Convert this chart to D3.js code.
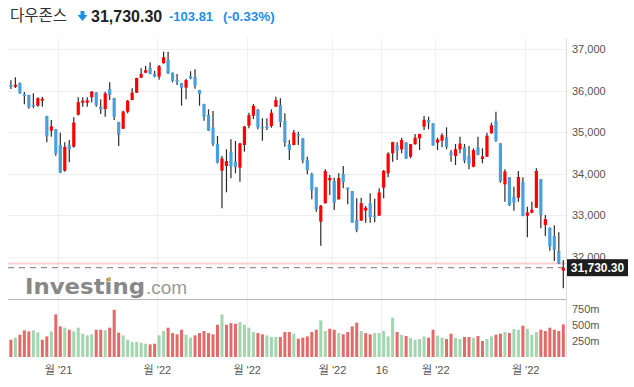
<!DOCTYPE html>
<html>
<head>
<meta charset="utf-8">
<script src="https://cdnjs.cloudflare.com/ajax/libs/d3/7.8.5/d3.min.js"></script>
<style>
body { margin: 0; background: #fff; }
svg { display: block; }
</style>
</head>
<body>
<svg id="chart" width="634" height="387"></svg>
<script>
// Dow Jones daily candles, 15 Nov 2021 - 12 May 2022
var dates = [
 "2021-11-15","2021-11-16","2021-11-17","2021-11-18","2021-11-19","2021-11-22","2021-11-23","2021-11-24","2021-11-26","2021-11-29","2021-11-30",
 "2021-12-01","2021-12-02","2021-12-03","2021-12-06","2021-12-07","2021-12-08","2021-12-09","2021-12-10","2021-12-13","2021-12-14","2021-12-15",
 "2021-12-16","2021-12-17","2021-12-20","2021-12-21","2021-12-22","2021-12-23","2021-12-27","2021-12-28","2021-12-29","2021-12-30","2021-12-31",
 "2022-01-03","2022-01-04","2022-01-05","2022-01-06","2022-01-07","2022-01-10","2022-01-11","2022-01-12","2022-01-13","2022-01-14",
 "2022-01-18","2022-01-19","2022-01-20","2022-01-21","2022-01-24","2022-01-25","2022-01-26","2022-01-27","2022-01-28","2022-01-31",
 "2022-02-01","2022-02-02","2022-02-03","2022-02-04","2022-02-07","2022-02-08","2022-02-09","2022-02-10","2022-02-11","2022-02-14",
 "2022-02-15","2022-02-16","2022-02-17","2022-02-18","2022-02-22","2022-02-23","2022-02-24","2022-02-25","2022-02-28",
 "2022-03-01","2022-03-02","2022-03-03","2022-03-04","2022-03-07","2022-03-08","2022-03-09","2022-03-10","2022-03-11","2022-03-14",
 "2022-03-15","2022-03-16","2022-03-17","2022-03-18","2022-03-21","2022-03-22","2022-03-23","2022-03-24","2022-03-25","2022-03-28",
 "2022-03-29","2022-03-30","2022-03-31",
 "2022-04-01","2022-04-04","2022-04-05","2022-04-06","2022-04-07","2022-04-08","2022-04-11","2022-04-12","2022-04-13","2022-04-14",
 "2022-04-18","2022-04-19","2022-04-20","2022-04-21","2022-04-22","2022-04-25","2022-04-26","2022-04-27","2022-04-28","2022-04-29",
 "2022-05-02","2022-05-03","2022-05-04","2022-05-05","2022-05-06","2022-05-09","2022-05-10","2022-05-11","2022-05-12"
];
var opens = [
 36133,36090,36181,35916,35892,35651,35634,35754,35386,35031,35065,
 34687,34067,34687,34646,35417,35706,35706,35836,35956,35610,35554,36036,35819,35241,35080,35490,35771,35947,36308,36429,36542,36405,
 36333,36655,36735,36429,36253,36181,36068,36349,36325,36012,35675,35410,35113,34711,34067,34181,34525,34284,34140,34687,
 35152,35393,35530,35120,35130,35145,35610,35651,35265,34711,34687,34952,34848,34325,33988,33667,32839,33282,33836,
 33819,33378,33988,33660,33578,32880,32863,33104,33282,32992,32983,33658,34005,34487,34679,34583,34752,34405,34703,34848,35128,35289,35210,
 34743,34791,34872,34511,34422,34583,34631,34422,34164,34631,34349,34405,34968,35265,34727,33739,33908,33441,33417,33795,
 32983,33056,33176,33860,32759,32694,32494,32133,31660
];
var highs = [
 36246,36318,36190,35964,35900,35932,35836,35851,35390,35289,35070,
 34983,34752,34807,35354,35836,35836,35836,35988,35960,35788,35972,36197,35825,35245,35510,35771,36053,36305,36535,36590,36679,36477,
 36614,36935,36935,36435,36398,36185,36285,36463,36511,36015,35680,35547,35506,34904,34422,34583,34824,34783,34742,35145,
 35465,35675,35554,35330,35330,35547,35851,35812,35451,34807,35048,35007,34850,34405,34019,33670,33241,34101,33964,
 33899,34005,34181,33665,33580,33402,33417,33217,33523,33394,33643,34085,34511,34767,34752,34863,34755,34711,34952,34955,35386,35369,35215,
 34863,34968,35113,34566,34711,34887,34711,34663,34607,34887,34607,34983,35224,35489,34730,34101,33910,33682,34060,33908,
 33200,33320,34125,33865,33000,32700,32751,32583,31916
];
var lows = [
 36036,36060,35923,35667,35561,35571,35610,35610,34752,34887,34429,
 34005,34040,34270,34620,35400,35610,35610,35716,35610,35434,35369,35771,35289,34663,35075,35451,35765,35940,36300,36414,36390,36318,
 36261,36650,36400,36198,36133,35634,35788,36270,36044,35634,35272,35025,34663,34240,33161,33547,33884,34005,33802,34526,
 35089,35313,35065,34790,35050,35104,35600,35113,34646,34325,34680,34687,34246,33981,33378,33080,32260,33275,33482,
 33120,33370,33643,33258,32815,32583,32860,32815,32815,32824,32980,33402,33908,34284,34325,34487,34349,34366,34700,34566,35048,35065,34670,
 34566,34631,34583,34284,34205,34487,34246,34101,34149,34440,34246,34400,34960,34767,33778,33320,33217,33104,33320,32968,
 32462,33041,33170,32680,32494,32140,31892,31819,31233
];
var closes = [
 36087,36142,35931,35870,35601,35619,35813,35804,34899,35135,34483,
 34022,34639,34580,35227,35719,35754,35760,35971,35650,35544,35927,35897,35365,34932,35492,35754,35950,36302,36398,36488,36398,36338,
 36585,36799,36407,36236,36231,36068,36252,36290,36113,35912,35369,35029,34715,34265,34365,34298,34168,34160,34725,35132,
 35405,35630,35111,35089,35091,35463,35768,35241,34738,34566,34989,34934,34312,34079,33596,33132,33224,34059,33893,
 33294,33891,33795,33615,32818,32633,33286,33174,32944,32945,33545,34063,34481,34755,34553,34808,34359,34708,34862,34955,35294,35229,34678,
 34818,34922,34641,34446,34584,34721,34309,34221,34564,34451,34412,34911,35161,34793,33811,34049,33240,33301,33916,32977,
 33061,33128,34061,32998,32899,32246,32160,31834,31730
];
// volume in millions
var volumes = [
 270,302,348,416,400,416,385,270,322,400,
 666,478,458,426,400,458,364,338,354,426,
 426,416,458,738,380,338,270,234,234,224,
 208,198,208,338,406,458,374,354,426,348,
 302,338,374,406,374,354,504,666,504,530,
 520,546,504,458,390,374,354,338,312,312,
 312,390,390,364,286,302,322,390,426,572,
 406,442,426,374,354,390,478,536,406,374,
 354,374,374,406,322,614,390,348,328,296,
 270,281,322,302,426,333,302,281,364,296,
 281,312,312,296,328,250,281,322,348,364,
 390,374,437,426,489,442,348,390,426,406,
 458,426,406,510
];

var priceTicks = [32000, 33000, 34000, 35000, 36000, 37000];
var volumeTicks = [250, 500, 750];
var xTickDates = ["2021-12-01", "2022-01-03", "2022-02-01", "2022-03-01", "2022-03-16", "2022-04-01", "2022-05-02"];
var xTickLabels = ["월 '21", "월 '22", "월 '22", "월 '22", "16", "월 '22", "월 '22"];

var indexName = "다우존스";
var lastPrice = 31730.30;
var change = -103.81;
var changePct = -0.33;

var UP = "#ff0000", DOWN = "#4aa0dc";
var VOL_UP = "#a3d5ae", VOL_DOWN = "#e46a6a";
var FONT = "'Liberation Sans', Arial, 'Noto Sans CJK KR', sans-serif";

// d3.format gives a unicode minus, the site shows a plain hyphen
function fmt(spec, v) { return d3.format(spec)(v).replace("\u2212", "-"); }

var svg = d3.select("#chart");

var left = 8, right = 566;
var x = d3.scaleLinear().domain([0, dates.length]).range([8.65, 565.55]);
var y = d3.scaleLinear().domain([32000, 37000]).range([256.5, 49]);
var yVol = d3.scaleLinear().domain([0, 750]).range([357, 309]);

var xTickIdx = xTickDates.map(function(d) { return dates.indexOf(d); });

// grid
var grid = svg.append("g");
grid.selectAll(".hg").data(priceTicks).enter().append("line")
    .attr("x1", left).attr("x2", right)
    .attr("y1", function(d) { return Math.round(y(d)) + 0.5; })
    .attr("y2", function(d) { return Math.round(y(d)) + 0.5; })
    .attr("stroke", "#eeeeee");
grid.selectAll(".vg").data(xTickIdx).enter().append("line")
    .attr("x1", function(d) { return Math.round(x(d)) + 0.5; })
    .attr("x2", function(d) { return Math.round(x(d)) + 0.5; })
    .attr("y1", 38).attr("y2", 357)
    .attr("stroke", "#f0f0f0");

// watermark
var wm = svg.append("g");
wm.append("text").attr("x", 25).attr("y", 294)
    .attr("font-family", "'DejaVu Sans', 'Liberation Sans', sans-serif").attr("font-weight", "bold")
    .attr("font-size", 22).attr("textLength", 120).attr("lengthAdjust", "spacingAndGlyphs")
    .attr("fill", "#888").text("Investing");
wm.append("text").attr("x", 146).attr("y", 294)
    .attr("font-family", "'Liberation Sans', Arial, sans-serif")
    .attr("font-size", 19).attr("fill", "#999").text(".com");
wm.append("path").attr("d", "M106,282 l3,-5 l2,0 l-3,5 z").attr("fill", "#f5a623");

// previous close and last price lines
var prevClose = lastPrice - change;
svg.append("line").attr("x1", left).attr("x2", right)
    .attr("y1", y(prevClose)).attr("y2", y(prevClose))
    .attr("stroke", "#f8cfcf").attr("stroke-width", 2);
svg.append("line").attr("x1", left).attr("x2", right)
    .attr("y1", y(lastPrice)).attr("y2", y(lastPrice))
    .attr("stroke", "#777").attr("stroke-dasharray", "6,5");

// panel separator
svg.append("line").attr("x1", left).attr("x2", right)
    .attr("y1", 299.5).attr("y2", 299.5).attr("stroke", "#b5b5b5");

// candles
var candles = svg.append("g").selectAll("g").data(dates).enter().append("g");
candles.append("line")
    .attr("x1", function(d, i) { return x(i + 0.5); })
    .attr("x2", function(d, i) { return x(i + 0.5); })
    .attr("y1", function(d, i) { return y(highs[i]); })
    .attr("y2", function(d, i) { return y(lows[i]); })
    .attr("stroke", "#2b2b2b").attr("stroke-width", 1.2);
candles.append("rect")
    .attr("x", function(d, i) { return x(i + 0.5) - 1.6; })
    .attr("width", 3.2)
    .attr("y", function(d, i) { return y(Math.max(opens[i], closes[i])); })
    .attr("height", function(d, i) { return Math.max(1.5, Math.abs(y(opens[i]) - y(closes[i]))); })
    .attr("fill", function(d, i) { return closes[i] >= opens[i] ? UP : DOWN; });

// volume bars
svg.append("g").selectAll("rect").data(volumes).enter().append("rect")
    .attr("x", function(d, i) { return x(i + 0.5) - 1.5; })
    .attr("width", 3)
    .attr("y", function(d) { return yVol(d); })
    .attr("height", function(d) { return yVol(0) - yVol(d); })
    .attr("fill", function(d, i) {
        var prev = i > 0 ? closes[i - 1] : opens[i];
        return closes[i] < prev ? VOL_DOWN : VOL_UP;
    });

// right axis line
svg.append("line").attr("x1", right + 0.5).attr("x2", right + 0.5)
    .attr("y1", 38).attr("y2", 357).attr("stroke", "#dcdcdc");

// price axis
var yAxis = svg.append("g").attr("transform", "translate(" + right + ",0)")
    .call(d3.axisRight(y).tickValues(priceTicks).tickSize(0).tickPadding(6).tickFormat(d3.format(",")));
yAxis.select(".domain").remove();
yAxis.selectAll("text").attr("font-family", FONT).attr("font-size", 11).attr("fill", "#555");

// volume axis
var vAxis = svg.append("g").attr("transform", "translate(" + right + ",0)")
    .call(d3.axisRight(yVol).tickValues(volumeTicks).tickSize(0).tickPadding(6)
        .tickFormat(function(d) { return d + "m"; }));
vAxis.select(".domain").remove();
vAxis.selectAll("text").attr("font-family", FONT).attr("font-size", 11).attr("fill", "#555");

// date axis
var xAxis = svg.append("g").attr("transform", "translate(0,357)")
    .call(d3.axisBottom(x).tickValues(xTickIdx).tickSize(0).tickPadding(9)
        .tickFormat(function(d, i) { return xTickLabels[i]; }));
xAxis.select(".domain").remove();
xAxis.selectAll("text").attr("font-family", FONT).attr("font-size", 11).attr("fill", "#555");

// last price tag
svg.append("rect").attr("x", 567).attr("y", y(lastPrice) - 8.5)
    .attr("width", 61).attr("height", 17).attr("fill", "#1e1e1e");
svg.append("text").attr("x", 597.5).attr("y", y(lastPrice) + 4)
    .attr("text-anchor", "middle").attr("font-family", FONT).attr("font-weight", "bold")
    .attr("font-size", 12).attr("fill", "#fff").text(fmt(",.2f", lastPrice));

// header
var head = svg.append("g");
head.append("text").attr("x", 10).attr("y", 21)
    .attr("font-family", "'Noto Sans CJK KR', sans-serif").attr("font-size", 15.5)
    .attr("fill", "#333").text(indexName);
head.append("path").attr("d", "M80.5,11 h4 v4 h3 l-5,6 l-5,-6 h3 z").attr("fill", "#1e8fe6");
head.append("text").attr("x", 91).attr("y", 21.5)
    .attr("font-family", FONT).attr("font-weight", "bold").attr("font-size", 16)
    .attr("fill", "#222").text(fmt(",.2f", lastPrice));
head.append("text").attr("x", 169).attr("y", 21)
    .attr("font-family", FONT).attr("font-weight", "bold").attr("font-size", 13)
    .attr("fill", "#1e8fe6").text(fmt(".2f", change));
head.append("text").attr("x", 223).attr("y", 21)
    .attr("font-family", FONT).attr("font-weight", "bold").attr("font-size", 13.5)
    .attr("fill", "#1e8fe6").text("(" + fmt(".2f", changePct) + "%)");
</script>
</body>
</html>
